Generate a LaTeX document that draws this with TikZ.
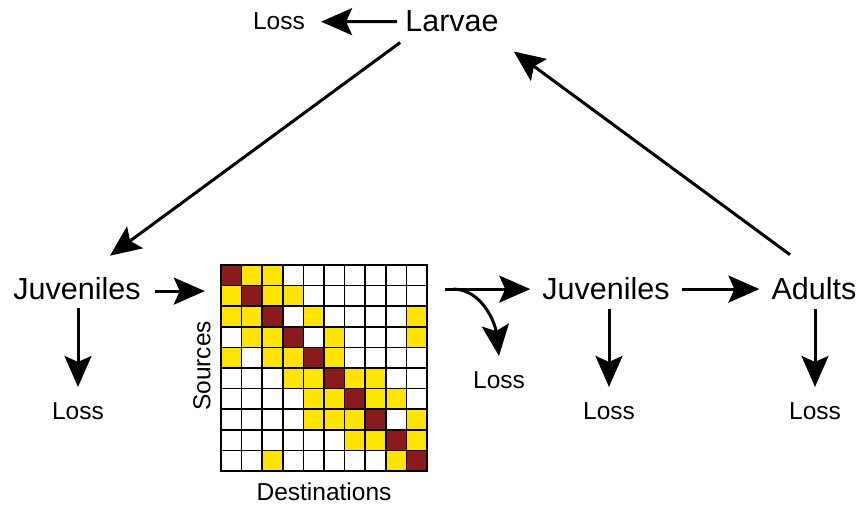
\documentclass[tikz,border=0pt]{standalone}
\usepackage{fontspec}
\setmainfont{Liberation Sans}
\usetikzlibrary{arrows.meta,calc}
\definecolor{cD}{RGB}{139,26,28}
\definecolor{cY}{RGB}{255,228,0}
\definecolor{cW}{RGB}{255,255,255}
\begin{document}
\begin{tikzpicture}[x=1pt,y=-1pt,
  big/.style={font=\fontsize{30.5}{30.5}\selectfont, inner sep=0pt, anchor=base},
  small/.style={font=\fontsize{24.5}{24.5}\selectfont, inner sep=0pt, anchor=base},
  arr/.style={line width=3pt, -{Stealth[length=31pt,width=27pt,inset=6pt]}},
  cell/.style={draw=black, line width=1.6pt}]
\useasboundingbox[fill=white] (0,0) rectangle (860,505);
% text nodes
\node[big] (larvae) at (452,32) {Larvae};
\node[small] (lossT) at (279,30) {Loss};
\node[big] (juvL) at (77,299) {Juveniles};
\node[big] (juvR) at (606,300) {Juveniles};
\node[big] (adults) at (814,300) {Adults};
\node[small] (lossJL) at (78,419) {Loss};
\node[small] (lossJR) at (609,419) {Loss};
\node[small] (lossA) at (815,419) {Loss};
\node[small] (lossM) at (499,388) {Loss};
% matrix
\node[minimum size=206pt, inner sep=0pt] (mat) at (324,368) {};
\def\cs{20.6}
\foreach \row [count=\i from 0] in {
  {D,Y,Y,W,W,W,W,W,W,W},
  {Y,D,Y,Y,W,W,W,W,W,W},
  {Y,Y,D,W,Y,W,W,W,W,Y},
  {W,Y,Y,D,W,Y,W,W,W,Y},
  {Y,W,Y,Y,D,Y,W,W,W,W},
  {W,W,W,Y,Y,D,Y,Y,W,W},
  {W,W,W,W,Y,Y,D,Y,Y,W},
  {W,W,W,W,Y,Y,Y,D,W,Y},
  {W,W,W,W,W,W,Y,Y,D,Y},
  {W,W,Y,W,W,W,W,W,Y,D}}{
  \foreach \c [count=\j from 0] in \row {
    \path[cell, fill=c\c] ({221+\j*\cs},{265+\i*\cs}) rectangle ++(\cs,\cs);
  }
}
\draw[line width=2.4pt] (mat.north west) rectangle (mat.south east);
\node[small, anchor=center, rotate=90] (src) at (202,366) {Sources};
\node[small] (dst) at (324,500) {Destinations};
% connectors
\draw[arr] ([xshift=-8pt]larvae.west) -- ([xshift=16pt]lossT.east);
\draw[arr] ([xshift=-5pt,yshift=-10pt]larvae.south west) -- ([xshift=33pt,yshift=21pt]juvL.north);
\draw[arr] ([xshift=14pt,yshift=-3pt]juvL.east) -- ([xshift=-16pt,yshift=-3pt]juvL.east -| mat.west);
\draw[arr] ([xshift=18pt]mat.east |- juvR.west) -- ([xshift=-12pt]juvR.west);
\draw[arr] ([xshift=26pt]mat.east |- juvR.west) .. controls +(28,0) and +(-4,-34) .. ([yshift=15pt]lossM.north);
\draw[arr] ([xshift=12pt]juvR.east) -- ([xshift=-12pt]adults.west);
\draw[arr] ([xshift=-24pt,yshift=23pt]adults.north) -- ([xshift=15pt,yshift=-19pt]larvae.south east);
\draw[arr] ([yshift=-9pt]lossJL.north |- juvL.south) -- ([yshift=15pt]lossJL.north);
\draw[arr] ([yshift=-9pt]lossJR.north |- juvR.south) -- ([yshift=15pt]lossJR.north);
\draw[arr] ([yshift=-9pt]lossA.north |- adults.south) -- ([yshift=15pt]lossA.north);
\end{tikzpicture}
\end{document}
